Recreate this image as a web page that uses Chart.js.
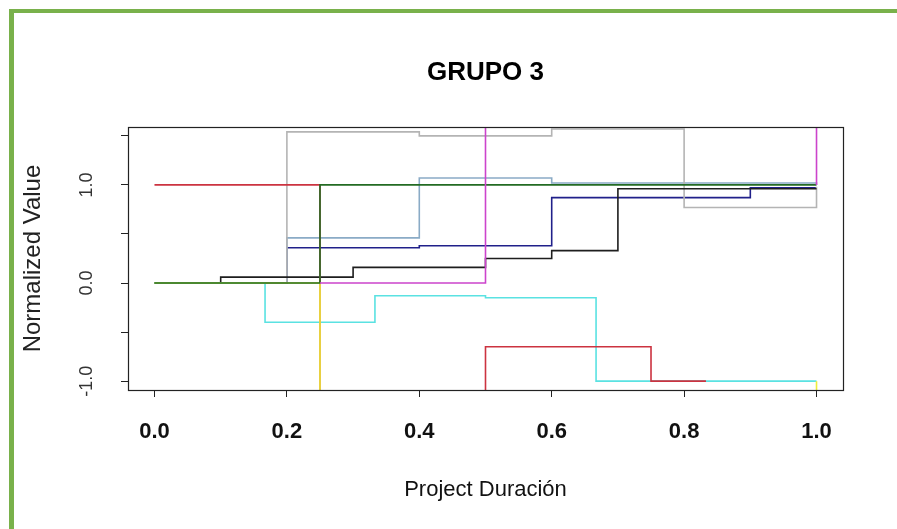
<!DOCTYPE html>
<html>
<head>
<meta charset="utf-8">
<script src="https://cdn.jsdelivr.net/npm/chart.js@4/dist/chart.umd.min.js"></script>
<style>
  html, body { margin: 0; padding: 0; background: #ffffff; }
  #wrap { position: relative; width: 897px; height: 529px; overflow: hidden; background: #ffffff; }
  #frame {
    position: absolute; left: 9px; top: 9px; width: 1000px; height: 700px;
    border-left: 5px solid #79b14b; border-top: 4px solid #79b14b;
    pointer-events: none;
  }
  canvas { position: absolute; left: 0; top: 0; }
</style>
</head>
<body>
<div id="wrap">
  <canvas id="chart" width="897" height="529"></canvas>
  <div id="frame"></div>
</div>
<script>
// Step series: each one is a list of change points (x = share of project duration).
const redX     = [0, 0.25, 0.5, 0.75, 0.833];
const redY     = [1.0, -1.5, -0.65, -1.0, -1.0];
const greenX   = [0, 0.25, 1.0];
const greenY   = [0.0, 1.0, 1.0];
const blackX   = [0, 0.1, 0.3, 0.5, 0.6, 0.7, 1.0];
const blackY   = [0.0, 0.06, 0.16, 0.25, 0.33, 0.96, 0.96];
const navyX    = [0, 0.2, 0.4, 0.6, 0.9, 1.0];
const navyY    = [0.0, 0.36, 0.38, 0.87, 0.97, 0.97];
const steelX   = [0, 0.2, 0.4, 0.6, 1.0];
const steelY   = [0.0, 0.46, 1.07, 1.02, 1.0];
const grayX    = [0, 0.2, 0.4, 0.6, 0.8, 1.0];
const grayY    = [0.0, 1.54, 1.50, 1.57, 0.77, 0.98];
const magentaX = [0.25, 0.5, 1.0];
const magentaY = [0.0, 1.8, 1.0];
const cyanX    = [0, 0.167, 0.333, 0.5, 0.667, 1.0];
const cyanY    = [0.0, -0.40, -0.13, -0.15, -1.0, -1.0];
const yellowX  = [0, 0.25, 1.0];
const yellowY  = [0.0, -1.5, -1.0];

// Axis ticks and labels
const xTickValues = [0, 0.2, 0.4, 0.6, 0.8, 1.0];
const xTickLabels = ['0.0', '0.2', '0.4', '0.6', '0.8', '1.0'];
const yTickValues = [-1.0, -0.5, 0.0, 0.5, 1.0, 1.5];
const yTickLabels = ['-1.0', '', '0.0', '', '1.0', ''];

const FONT = '"Liberation Sans", Arial, Helvetica, sans-serif';

function pts(xs, ys) { return xs.map((x, i) => ({ x: x, y: ys[i] })); }
function stepSet(xs, ys, color) {
  return {
    data: pts(xs, ys),
    borderColor: color,
    borderWidth: 1.6,
    showLine: true,
    stepped: 'before',
    pointRadius: 0,
    fill: false
  };
}

// First dataset is painted on top.
const datasets = [
  stepSet(magentaX, magentaY, '#cc44cc'),
  stepSet(greenX, greenY, '#236b23'),
  stepSet(yellowX, yellowY, '#eeee3a'),
  stepSet(redX, redY, '#cc3340'),
  stepSet(cyanX, cyanY, '#5ae2e2'),
  stepSet(blackX, blackY, '#1e1e1e'),
  stepSet(grayX, grayY, '#b4b4b4'),
  stepSet(steelX, steelY, '#8aabc6'),
  stepSet(navyX, navyY, '#20208a')
];

// Closed frame around the plotting region.
const plotBox = {
  id: 'plotBox',
  afterDatasetsDraw(chart) {
    const a = chart.chartArea, ctx = chart.ctx;
    ctx.save();
    ctx.strokeStyle = '#222';
    ctx.lineWidth = 1.2;
    ctx.strokeRect(Math.round(a.left) + 0.5, Math.round(a.top) + 0.5,
                   Math.round(a.right - a.left), Math.round(a.bottom - a.top));
    ctx.restore();
  }
};

new Chart(document.getElementById('chart'), {
  type: 'scatter',
  data: { datasets: datasets },
  plugins: [plotBox],
  options: {
    responsive: false,
    animation: false,
    devicePixelRatio: 1,
    layout: { padding: { top: 0, right: 54, bottom: 0, left: 0 } },
    plugins: {
      legend: { display: false },
      tooltip: { enabled: false },
      title: {
        display: true,
        text: 'GRUPO 3',
        fullSize: false,
        color: '#000',
        font: { family: FONT, size: 26, weight: 'bold', lineHeight: 1.2 },
        padding: { top: 57.4, bottom: 38.4 }
      }
    },
    scales: {
      x: {
        type: 'linear',
        min: -0.04,
        max: 1.04,
        afterFit(s) { s.height = 139; },
        afterBuildTicks(s) { s.ticks = xTickValues.map(v => ({ value: v })); },
        grid: { drawOnChartArea: false, drawTicks: true, tickLength: 7, color: '#222', lineWidth: 1 },
        border: { display: false },
        ticks: {
          padding: 22,
          color: '#111',
          maxRotation: 0,
          minRotation: 0,
          font: { family: FONT, size: 22, weight: 'bold', lineHeight: 1.2 },
          callback(v, i) { return xTickLabels[i]; }
        },
        title: {
          display: true,
          text: 'Project Duración',
          color: '#111',
          font: { family: FONT, size: 22, lineHeight: 1.2 },
          padding: { top: 0, bottom: 26 }
        }
      },
      y: {
        type: 'linear',
        min: -1.09,
        max: 1.59,
        afterFit(s) { s.width = 128; },
        afterBuildTicks(s) { s.ticks = yTickValues.map(v => ({ value: v })); },
        grid: { drawOnChartArea: false, drawTicks: true, tickLength: 7, color: '#222', lineWidth: 1 },
        border: { display: false },
        ticks: {
          padding: 18,
          color: '#333',
          minRotation: 90,
          maxRotation: 90,
          crossAlign: 'center',
          font: { family: FONT, size: 18, lineHeight: 1.2 },
          callback(v, i) { return yTickLabels[i]; }
        },
        title: {
          display: true,
          text: 'Normalized Value',
          color: '#222',
          font: { family: FONT, size: 24, lineHeight: 1.2 },
          padding: { top: 18.6, bottom: 0 }
        }
      }
    }
  }
});
</script>
</body>
</html>
